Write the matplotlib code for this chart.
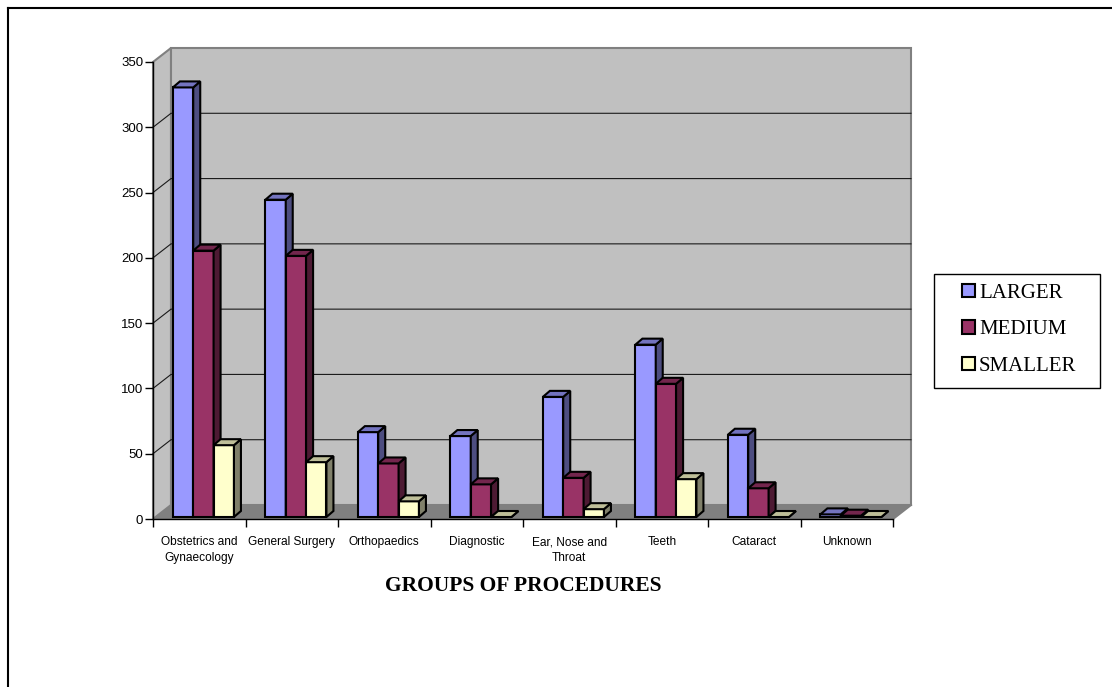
import matplotlib
matplotlib.use('Agg')
import matplotlib.pyplot as plt
from matplotlib.patches import Polygon, Rectangle, Patch
from matplotlib.lines import Line2D

# dados
categorias = ['Obstetrics and\nGynaecology', 'General Surgery', 'Orthopaedics',
              'Diagnostic', 'Ear, Nose and\nThroat', 'Teeth', 'Cataract', 'Unknown']
series = ['LARGER', 'MEDIUM', 'SMALLER']
larger = [329, 243, 65, 62, 92, 132, 63, 2]
medium = [204, 200, 41, 25, 30, 102, 22, 1]
smaller = [55, 42, 12, 0, 6, 29, 0, 0]
yticks = [0, 50, 100, 150, 200, 250, 300, 350]

# cores: frente, lado, topo
cor_frente = ['#9999FF', '#993366', '#FFFFCC']
cor_lado = ['#4D4D80', '#4D1A33', '#80806A']
cor_topo = ['#7373BF', '#73264D', '#BFBF99']

W, H = 1112, 687
n = len(categorias)
ymax = yticks[-1]

fig = plt.figure(figsize=(W/100., H/100.), dpi=100)
fig.patch.set_facecolor('white')
ax = fig.add_axes([153./W, (H-519.)/H, 740./W, 457./H])
ax.set_xlim(0, n)
ax.set_ylim(0, ymax)
ax.patch.set_visible(False)

# tamanho de uma unidade em pixels
px_x = 740./n
px_y = 457./ymax
dx, dy = 18/px_x, 14/px_y     # profundidade das paredes
bdx, bdy = 7/px_x, 6/px_y     # profundidade das barras
oy = 2/px_y
bw = 0.22

# paredes e chao
ax.add_patch(Polygon([(0, 0), (dx, dy), (n+dx, dy), (n, 0)],
                     fc='#808080', ec='none', clip_on=False, zorder=0))
ax.add_patch(Polygon([(0, 0), (0, ymax), (dx, ymax+dy), (dx, dy)],
                     fc='#C0C0C0', ec='#808080', lw=1.5, clip_on=False, zorder=0))
ax.add_patch(Rectangle((dx, dy), n, ymax, fc='#C0C0C0', ec='#808080',
                       lw=1.5, clip_on=False, zorder=0))
ax.plot([n, n+dx], [0, dy], color='#808080', lw=1.5, clip_on=False, zorder=0)
for v in yticks[1:-1]:
    ax.plot([0, dx, n+dx], [v, v+dy, v+dy], color='#1a1a1a', lw=0.8,
            clip_on=False, zorder=1)

# barras com efeito 3d
for i in range(n):
    for k, vals in enumerate([larger, medium, smaller]):
        x0 = i + 0.215 + k*bw
        h = vals[i]
        y1 = oy + h
        ax.bar(x0, h, bw, bottom=oy, align='edge', color=cor_frente[k],
               edgecolor='black', linewidth=1.5, zorder=3)
        ax.add_patch(Polygon([(x0+bw, oy), (x0+bw+bdx, oy+bdy),
                              (x0+bw+bdx, y1+bdy), (x0+bw, y1)],
                             fc=cor_lado[k], ec='black', lw=1.5, zorder=3))
        ax.add_patch(Polygon([(x0, y1), (x0+bdx, y1+bdy),
                              (x0+bw+bdx, y1+bdy), (x0+bw, y1)],
                             fc=cor_topo[k], ec='black', lw=1.5, zorder=3))

# eixos
for s in ['top', 'right']:
    ax.spines[s].set_visible(False)
for s in ['left', 'bottom']:
    ax.spines[s].set_color('black')
    ax.spines[s].set_linewidth(1.0)
    ax.spines[s].set_zorder(2)

fonte = 'Liberation Sans'
ax.set_yticks(yticks)
ax.set_yticklabels([str(v) for v in yticks], family=fonte, fontsize=9.5)
ax.tick_params(axis='y', direction='out', length=6, width=1, pad=1)

ax.set_xticks(range(n+1))
ax.set_xticklabels([''] * (n+1))
ax.set_xticks([i + 0.5 for i in range(n)], minor=True)
ax.set_xticklabels(categorias, minor=True, family=fonte, fontsize=8.6,
                   linespacing=1.4)
ax.tick_params(axis='x', which='major', direction='out', length=6, width=1)
ax.tick_params(axis='x', which='minor', length=0, pad=12.5)

fig.text(523./W, 1-586./H, 'GROUPS OF PROCEDURES', family='Liberation Serif',
         weight='bold', size=15.5, ha='center', va='center')

# legenda
fig.add_artist(Rectangle((934./W, 1-388./H), 166./W, 114./H,
                         transform=fig.transFigure, fill=False,
                         ec='black', lw=1))
handles = [Patch(fc=c, ec='black', lw=1.5) for c in cor_frente]
fig.legend(handles, series, loc='upper left', bbox_to_anchor=(962./W, 1-284./H),
           frameon=False, prop={'family': 'Liberation Serif', 'size': 15},
           handlelength=0.62, handleheight=0.62, handletextpad=0.2,
           labelspacing=0.83, borderpad=0, borderaxespad=0)

# moldura
fig.add_artist(Line2D([8./W, 8./W], [0, 1-8./H], transform=fig.transFigure,
                      color='black', lw=1.5))
fig.add_artist(Line2D([8./W, 1], [1-8./H, 1-8./H], transform=fig.transFigure,
                      color='black', lw=1.5))

fig.savefig('out.png', dpi=100)
